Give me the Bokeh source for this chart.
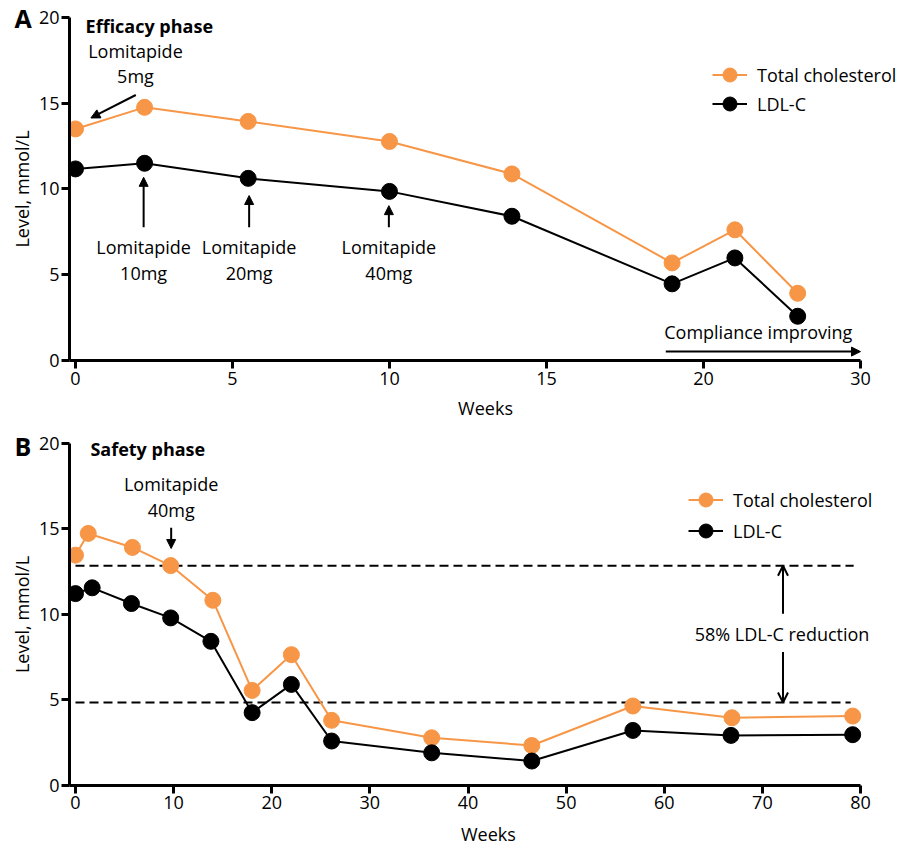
import math
from bokeh.plotting import figure
from bokeh.models import (Range1d, FixedTicker, Legend, LegendItem, Label, Arrow,
                          NormalHead, OpenHead)
from bokeh.layouts import column, row
from bokeh.embed import file_html
from bokeh.resources import INLINE
from bokeh.core.validation import silence
from bokeh.core.validation.warnings import MISSING_RENDERERS

silence(MISSING_RENDERERS, True)

FONT = "Open Sans"
ORANGE = "#F79646"
BLACK = "#000000"
BASE_FIX = 0.36  # x font size: Bokeh draws alphabetic-baseline labels this much lower

# ---------------- Panel A: efficacy phase ----------------
weeks_a = [0, 2.2, 5.5, 10.0, 13.9, 19.0, 22.0, 26.0]
tc_a = [13.5, 14.76, 13.94, 12.77, 10.88, 5.69, 7.62, 3.92]
ldl_a = [11.17, 11.5, 10.62, 9.86, 8.41, 4.47, 5.98, 2.58]
xticks_a = [0, 5, 10, 15, 20, 30]

# ---------------- Panel B: safety phase ----------------
weeks_tc_b = [0, 1.3, 5.8, 9.7, 14.0, 18.0, 22.0, 26.1, 36.3, 46.5, 56.8, 66.9, 79.2]
tc_b = [13.47, 14.74, 13.92, 12.86, 10.83, 5.56, 7.65, 3.81, 2.79, 2.34, 4.65, 3.96, 4.06]
weeks_ldl_b = [0, 1.7, 5.7, 9.7, 13.8, 18.0, 22.0, 26.1, 36.3, 46.5, 56.8, 66.8, 79.2]
ldl_b = [11.22, 11.56, 10.64, 9.80, 8.43, 4.26, 5.91, 2.60, 1.91, 1.43, 3.22, 2.93, 2.97]
xticks_b = [0, 10, 20, 30, 40, 50, 60, 70, 80]
ref_levels_b = [12.85, 4.85]

yticks = [0, 5, 10, 15, 20]


def brk(w):
    """Panel A x axis is broken: 20-30 weeks drawn over the width of 5 weeks."""
    return w if w <= 20 else 20 + (w - 20) / 2.0


def style(p, xt_pos, xt_lab, xlo, xmax, x_standoff):
    p.xgrid.visible = False
    p.ygrid.visible = False
    p.outline_line_color = None
    for ax in (p.xaxis[0], p.yaxis[0]):
        ax.axis_line_width = 3
        ax.axis_line_color = BLACK
        ax.major_tick_line_width = 3
        ax.major_tick_line_color = BLACK
        ax.major_tick_out = 8
        ax.major_tick_in = 0
        ax.minor_tick_out = 0
        ax.minor_tick_in = 0
        ax.major_label_text_font = FONT
        ax.major_label_text_font_size = "18px"
        ax.major_label_text_color = BLACK
    p.yaxis.ticker = FixedTicker(ticks=yticks)
    p.yaxis.bounds = (0, 20)
    p.yaxis.major_label_standoff = 2
    p.xaxis.ticker = FixedTicker(ticks=xt_pos)
    p.xaxis.major_label_overrides = {t: l for t, l in zip(xt_pos, xt_lab)}
    p.xaxis.bounds = (xlo, xmax)
    p.xaxis.major_label_standoff = x_standoff


def series(p, xs, ys, color, size=16):
    l = p.line(xs, ys, line_color=color, line_width=2)
    s = p.scatter(xs, ys, size=size, fill_color=color, line_color=color)
    return [l, s]


def add_legend(p, label, rends, loc):
    leg = Legend(items=[LegendItem(label=label, renderers=rends)],
                 location=loc, orientation="vertical",
                 glyph_width=35, glyph_height=35, spacing=0,
                 label_standoff=10, padding=0, margin=0,
                 border_line_color=None, background_fill_alpha=0,
                 label_text_font=FONT, label_text_font_size="18px",
                 label_text_color=BLACK)
    p.add_layout(leg)


def txt(p, x, y, s, align="center", bold=False, size=18, baseline="alphabetic", angle=0):
    p.add_layout(Label(x=x, y=y, text=s, text_font=FONT, text_font_size=f"{size}px",
                       text_font_style="bold" if bold else "normal", angle=angle,
                       text_align=align, text_baseline=baseline, text_color=BLACK))


def dtxt(p, unit_px, x, y, s, size=18, **kw):
    """Label in data coordinates (y up), baseline corrected."""
    txt(p, x, y + BASE_FIX * size / unit_px, s, size=size, **kw)


def ptxt(p, x, y, s, size=18, **kw):
    """Label in pixel coordinates (y down), baseline corrected."""
    txt(p, x, y - BASE_FIX * size, s, size=size, **kw)


def arrow(p, x0, y0, x1, y1, head="normal", size=9):
    if head == "normal":
        h = NormalHead(size=size, fill_color=BLACK, line_color=BLACK, line_width=1)
    else:
        h = OpenHead(size=size, line_color=BLACK, line_width=2)
    p.add_layout(Arrow(end=h, x_start=x0, y_start=y0, x_end=x1, y_end=y1,
                       line_color=BLACK, line_width=2))


def pixel_fig(width, height):
    s = figure(width=width, height=height, x_range=Range1d(0, width), y_range=Range1d(height, 0),
               output_backend="svg", toolbar_location=None,
               x_axis_location=None, y_axis_location=None, min_border=0)
    s.grid.visible = False
    s.outline_line_color = None
    return s


UA = 17.15  # px per mmol/L, panel A
UB = 17.10  # px per mmol/L, panel B
LEFT_W = 35
MAIN_W = 903 - LEFT_W

# vertical plan (page px): A 0-396, A title 396-431, B 431-820, B title 820-845
A_H, WA_H, B_H, WB_H = 396, 35, 389, 25
B_TOP = A_H + WA_H
WB_TOP = B_TOP + B_H

# ---------------- left strip: panel letters and y-axis titles ----------------
side = pixel_fig(LEFT_W, 845)
ptxt(side, 22.5, 26, "A", bold=True, size=25)
txt(side, 21.5, 188.5, "Level, mmol/L", baseline="middle", angle=math.pi / 2)
ptxt(side, 22.5, 454.5, "B", bold=True, size=25)
txt(side, 21.5, 614, "Level, mmol/L", baseline="middle", angle=math.pi / 2)

# ---------------- panel A ----------------
xa = [brk(w) for w in weeks_a]
xa_lo = -0.191
pa = figure(width=MAIN_W, height=A_H, x_range=Range1d(xa_lo, 26.37), y_range=Range1d(0, 20.99),
            output_backend="svg", toolbar_location=None,
            min_border_left=34, min_border_right=0, min_border_top=0, min_border_bottom=36)
style(pa, [brk(t) for t in xticks_a], [str(t) for t in xticks_a], xa_lo, brk(30), 3)
r_tc_a = series(pa, xa, tc_a, ORANGE)
r_ldl_a = series(pa, xa, ldl_a, BLACK)
add_legend(pa, "Total cholesterol", r_tc_a, (643, 268))
add_legend(pa, "LDL-C", r_ldl_a, (643, 239))

dtxt(pa, UA, 0.32, 19.13, "Efficacy phase", align="left", bold=True)
dtxt(pa, UA, 1.91, 17.67, "Lomitapide")
dtxt(pa, UA, 1.91, 16.22, "5mg")
arrow(pa, 1.92, 15.48, 0.49, 14.14)
for xw, dose, tip in [(2.17, "10mg", 10.68), (5.53, "20mg", 9.62), (9.98, "40mg", 9.03)]:
    arrow(pa, xw, 7.77, xw, tip)
    dtxt(pa, UA, xw, 6.25, "Lomitapide")
    dtxt(pa, UA, xw, 4.72, dose)
dtxt(pa, UA, 18.75, 1.28, "Compliance improving", align="left")
arrow(pa, brk(18.8), 0.52, brk(30), 0.52)

# x-axis title strip for A
wa = pixel_fig(MAIN_W, WA_H)
ptxt(wa, 468 - LEFT_W, 414 - A_H, "Weeks")

# ---------------- panel B ----------------
xb_lo = -0.611
pb = figure(width=MAIN_W, height=B_H, x_range=Range1d(xb_lo, 84.38), y_range=Range1d(0, 20.70),
            output_backend="svg", toolbar_location=None,
            min_border_left=34, min_border_right=0, min_border_top=0, min_border_bottom=35)
style(pb, xticks_b, [str(t) for t in xticks_b], xb_lo, 80, 2)
pb.segment(x0=[0, 0], y0=ref_levels_b, x1=[79.3, 79.0], y1=ref_levels_b,
           line_color=BLACK, line_width=2, line_dash="9 5")
r_tc_b = series(pb, weeks_tc_b, tc_b, ORANGE)
r_ldl_b = series(pb, weeks_ldl_b, ldl_b, BLACK)
add_legend(pb, "Total cholesterol", r_tc_b, (619, 268))
add_legend(pb, "LDL-C", r_ldl_b, (619, 237))

dtxt(pb, UB, 1.52, 19.28, "Safety phase", align="left", bold=True)
dtxt(pb, UB, 9.75, 17.27, "Lomitapide")
dtxt(pb, UB, 9.75, 15.75, "40mg")
arrow(pb, 9.75, 15.07, 9.75, 13.86)
arrow(pb, 72.1, 10.05, 72.1, ref_levels_b[0], head="open", size=10)
arrow(pb, 72.1, 7.81, 72.1, ref_levels_b[1], head="open", size=10)
dtxt(pb, UB, 72.0, 8.49, "58% LDL-C reduction")

# x-axis title strip for B
wb = pixel_fig(MAIN_W, WB_H)
ptxt(wb, 471 - LEFT_W, 839.5 - WB_TOP, "Weeks")

layout = row(side, column(pa, wa, pb, wb, spacing=0), spacing=0)
open("out.html", "w").write(file_html(layout, INLINE))
